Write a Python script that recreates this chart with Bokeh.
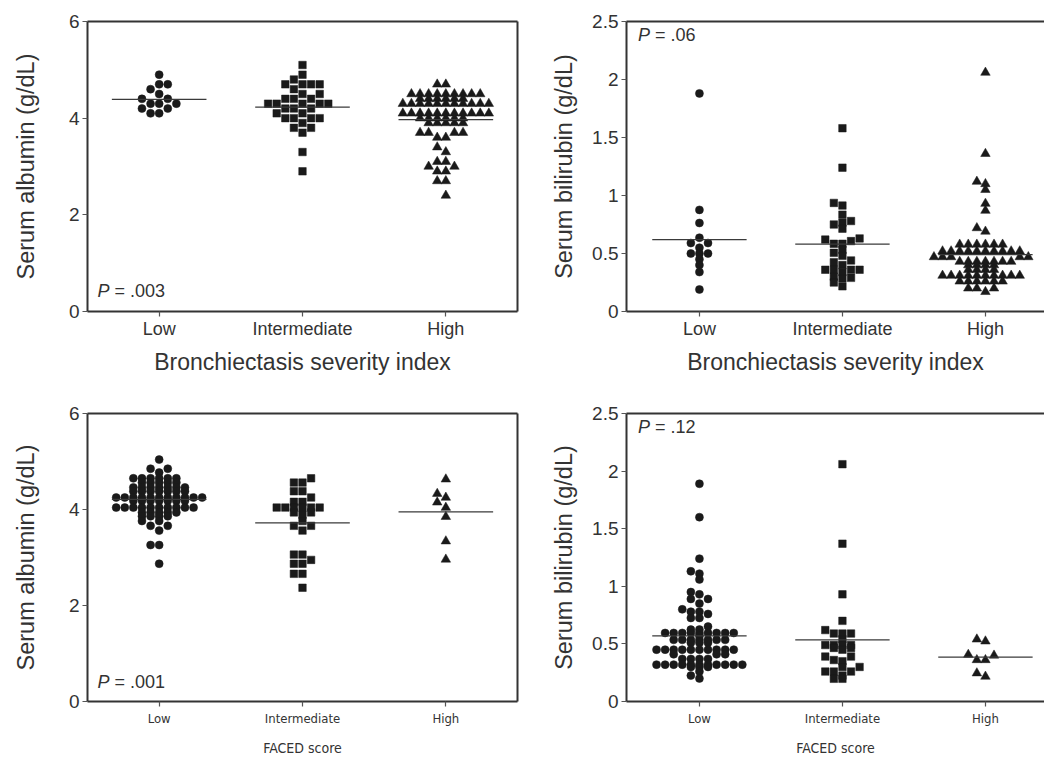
from bokeh.plotting import figure
from bokeh.layouts import column, row
from bokeh.models import Range1d, FixedTicker, LinearAxis, Label, CustomJSTickFormatter
from bokeh.embed import file_html
from bokeh.resources import INLINE

# ---------------- data ----------------
groups = ["Low", "Intermediate", "High"]

alb_bsi_low = [4.9, 4.7, 4.7, 4.6, 4.5, 4.4, 4.4, 4.3, 4.3, 4.3, 4.2, 4.2, 4.1, 4.1]
alb_bsi_int = [5.1, 4.9, 4.8, 4.7, 4.7, 4.7, 4.7, 4.6, 4.5, 4.5, 4.4, 4.4, 4.4,
               4.3, 4.3, 4.3, 4.3, 4.3, 4.2, 4.2, 4.2, 4.1, 4.1, 4.0, 4.0, 4.0, 4.0,
               3.9, 3.8, 3.8, 3.7, 3.3, 2.9]
alb_bsi_high = [4.7, 4.7,
                4.5, 4.5, 4.5, 4.5, 4.5, 4.5, 4.5, 4.5, 4.5,
                4.4, 4.4, 4.4, 4.4, 4.4, 4.4,
                4.3, 4.3, 4.3, 4.3, 4.3, 4.3, 4.3, 4.3, 4.3, 4.3, 4.3,
                4.1, 4.1, 4.1, 4.1, 4.1, 4.1, 4.1, 4.1, 4.1, 4.1, 4.1,
                4.0, 4.0, 4.0, 4.0, 4.0, 4.0,
                3.9, 3.9, 3.9, 3.9, 3.9,
                3.7, 3.7, 3.7, 3.7,
                3.6, 3.6, 3.4, 3.3, 3.1, 3.1, 3.0, 3.0, 2.9, 2.9, 2.7, 2.7, 2.4]
alb_bsi_med = [4.39, 4.23, 3.97]

bil_bsi_low = [1.88, 0.876, 0.763, 0.636, 0.59, 0.59, 0.55, 0.50, 0.50, 0.50, 0.45, 0.40, 0.34, 0.19]
bil_bsi_int = [1.58, 1.24, 0.936, 0.913, 0.835, 0.78, 0.766, 0.75, 0.714, 0.63, 0.62, 0.607,
               0.584, 0.584, 0.53, 0.506, 0.48, 0.44, 0.425, 0.40, 0.36, 0.36, 0.36, 0.36,
               0.34, 0.30, 0.29, 0.286, 0.25, 0.217]
bil_bsi_high = [2.06, 1.36, 1.12, 1.10, 1.05, 0.93, 0.87, 0.72, 0.69,
                0.578, 0.578, 0.578, 0.578, 0.578, 0.578,
                0.52, 0.52, 0.52, 0.52, 0.52, 0.52, 0.52, 0.52, 0.52, 0.52,
                0.47, 0.47, 0.47, 0.47, 0.47,
                0.43, 0.43, 0.43, 0.43, 0.43, 0.43, 0.43,
                0.40, 0.40, 0.40, 0.40,
                0.36, 0.36, 0.36, 0.36,
                0.31, 0.31, 0.31, 0.31, 0.31, 0.31, 0.31, 0.31, 0.31, 0.31,
                0.26, 0.26, 0.26, 0.26, 0.26, 0.26,
                0.20, 0.20, 0.20, 0.17]
bil_bsi_med = [0.62, 0.58, 0.49]

alb_faced_low = [5.04, 4.85, 4.85, 4.77,
                 4.65, 4.65, 4.65, 4.65, 4.65, 4.65,
                 4.56, 4.56, 4.56, 4.56, 4.56,
                 4.46, 4.46, 4.46, 4.46, 4.46, 4.46, 4.46,
                 4.38, 4.38, 4.38, 4.38, 4.38, 4.38, 4.38,
                 4.25, 4.25, 4.25, 4.25, 4.25, 4.25, 4.25, 4.25, 4.25, 4.25, 4.25,
                 4.18, 4.18, 4.18, 4.18, 4.18, 4.18, 4.18,
                 4.04, 4.04, 4.04, 4.04, 4.04, 4.04, 4.04, 4.04, 4.04, 4.04,
                 3.94, 3.94, 3.94, 3.94, 3.94,
                 3.86, 3.86, 3.86, 3.86,
                 3.76, 3.76, 3.66, 3.66, 3.56, 3.26, 3.26, 2.87]
alb_faced_int = [4.65, 4.56, 4.56, 4.38, 4.38, 4.25, 4.16, 4.16,
                 4.04, 4.04, 4.04, 4.04, 4.04, 4.04, 3.94, 3.94, 3.89, 3.76,
                 3.66, 3.66, 3.56, 3.06, 3.06, 2.95, 2.87, 2.87, 2.66, 2.66, 2.37]
alb_faced_high = [4.63, 4.33, 4.25, 4.15, 4.04, 3.85, 3.34, 2.96]
alb_faced_med = [4.21, 3.72, 3.95]

bil_faced_low = [1.89, 1.60, 1.24, 1.13, 1.11, 1.06, 0.95, 0.93, 0.89, 0.89, 0.85,
                 0.80, 0.78, 0.78, 0.76, 0.725, 0.725, 0.65, 0.624, 0.624,
                 0.595, 0.595, 0.595, 0.595, 0.595, 0.595, 0.595, 0.595, 0.595, 0.57,
                 0.535, 0.535, 0.535, 0.535, 0.535, 0.535, 0.535, 0.51, 0.51, 0.51,
                 0.45, 0.45, 0.45, 0.45, 0.45, 0.45, 0.45, 0.45, 0.45, 0.45,
                 0.41, 0.41, 0.41, 0.37, 0.37, 0.37, 0.37,
                 0.32, 0.32, 0.32, 0.32, 0.32, 0.32, 0.32, 0.32, 0.32, 0.32, 0.32,
                 0.30, 0.30, 0.30, 0.26, 0.225, 0.20]
bil_faced_int = [2.06, 1.37, 0.93, 0.70, 0.62, 0.59, 0.59, 0.59, 0.54,
                 0.49, 0.49, 0.49, 0.49, 0.465, 0.465, 0.45, 0.39, 0.39, 0.36, 0.35,
                 0.30, 0.30, 0.26, 0.26, 0.26, 0.225, 0.197, 0.197]
bil_faced_high = [0.54, 0.523, 0.407, 0.40, 0.361, 0.361, 0.246, 0.217]
bil_faced_med = [0.57, 0.535, 0.385]

p_texts = ["= .003", "= .06", "= .001", "= .12"]
alb_ticks = [0, 2, 4, 6]
bil_ticks = [0, 0.5, 1, 1.5, 2, 2.5]

# ---------------- styling ----------------
INK = "#1a1a1a"
AX = "#333333"
TXT = "#333333"
FONT = "Liberation Sans"
NARROW = "DejaVu Sans Condensed"
MARKERS = ["circle", "square", "triangle"]
MSIZE = [8, 7.5, 9.5]
STEP = 0.06
H_SMALL, H_BIG, DENSE_N, WIN = 2.0, 5.5, 6, 4.5


def swarm_offsets(vals, ppu, step):
    """Grid beeswarm: each point takes the nearest column free of close neighbours.
    Points in dense rows tolerate overlap, sparse points are spread apart."""
    n = len(vals)
    ys = [v * ppu for v in vals]
    hs = []
    for y in ys:
        cnt = sum(1 for yy in ys if abs(yy - y) <= WIN)
        hs.append(H_SMALL if cnt >= DENSE_N else H_BIG)
    order = sorted(range(n), key=lambda i: vals[i])
    cols = {}
    offs = [0.0] * n
    seq = [0]
    for k in range(1, 60):
        seq += [-k, k]
    for i in order:
        for c in seq:
            if all(abs(ys[i] - yy) >= hs[i] for yy in cols.get(c, [])):
                cols.setdefault(c, []).append(ys[i])
                offs[i] = c * step
                break
    return offs


def panel(w, h, mbl, mbr, mbt, mbb, xr, yr, ticks, ylabel, xlabel, narrow,
          data, meds, ptext, px, py, right_border, ylab_standoff):
    p = figure(width=w, height=h, x_range=Range1d(*xr), y_range=Range1d(*yr),
               output_backend="svg", toolbar_location=None,
               min_border_left=mbl, min_border_right=mbr,
               min_border_top=mbt, min_border_bottom=mbb)
    p.grid.visible = False
    p.outline_line_color = None
    p.background_fill_color = "white"
    p.border_fill_color = "white"

    p.xaxis.ticker = FixedTicker(ticks=[1, 2, 3])
    p.xaxis.major_label_overrides = {1: groups[0], 2: groups[1], 3: groups[2]}
    p.yaxis.ticker = FixedTicker(ticks=ticks)
    p.yaxis.formatter = CustomJSTickFormatter(code="return tick.toString();")
    for ax in (p.xaxis[0], p.yaxis[0]):
        ax.axis_line_color = AX
        ax.axis_line_width = 2
        ax.major_tick_line_color = "#555555"
        ax.major_tick_line_width = 1.2
        ax.major_tick_out = 5
        ax.major_tick_in = 0
        ax.minor_tick_line_color = None
        ax.major_label_text_color = TXT
        ax.axis_label_text_color = TXT
        ax.axis_label_text_font_style = "normal"
    p.yaxis.major_label_text_font = FONT
    p.yaxis.major_label_text_font_size = "19px"
    p.yaxis.major_label_standoff = 3
    p.yaxis.axis_label = ylabel
    p.yaxis.axis_label_text_font = FONT
    p.yaxis.axis_label_text_font_size = "23.5px"
    p.yaxis.axis_label_standoff = ylab_standoff
    p.xaxis.axis_label = xlabel
    if narrow:
        p.xaxis.major_label_text_font = NARROW
        p.xaxis.major_label_text_font_size = "13px"
        p.xaxis.major_label_standoff = 4
        p.xaxis.axis_label_text_font = NARROW
        p.xaxis.axis_label_text_font_size = "14px"
        p.xaxis.axis_label_standoff = 11
    else:
        p.xaxis.major_label_text_font = FONT
        p.xaxis.major_label_text_font_size = "18px"
        p.xaxis.major_label_standoff = 2
        p.xaxis.axis_label_text_font = FONT
        p.xaxis.axis_label_text_font_size = "23px"
        p.xaxis.axis_label_standoff = 7

    sides = ["above"] + (["right"] if right_border else [])
    for side in sides:
        b = LinearAxis(ticker=FixedTicker(ticks=[]), axis_line_color=AX, axis_line_width=2,
                       major_tick_out=0, major_tick_in=0, minor_tick_out=0, minor_tick_in=0,
                       major_label_standoff=0, major_label_text_font_size="0px")
        p.add_layout(b, side)

    frame_h = h - mbt - mbb
    ppu = frame_h / (yr[1] - yr[0])
    for gi, vals in enumerate(data):
        offs = swarm_offsets(vals, ppu, STEP)
        xs = [gi + 1 + o for o in offs]
        p.scatter(xs, vals, marker=MARKERS[gi], size=MSIZE[gi],
                  fill_color=INK, line_color=INK, line_width=0.5)
    for gi, m in enumerate(meds):
        p.segment(x0=[gi + 1 - 0.33], y0=[m], x1=[gi + 1 + 0.33], y1=[m],
                  line_color="#3a3a3a", line_width=1.3)

    p.add_layout(Label(x=px, y=py, text="P", text_font=FONT, text_font_size="18px",
                       text_font_style="italic", text_color=TXT, text_baseline="middle"))
    p.add_layout(Label(x=px, y=py, x_offset=17, text=ptext, text_font=FONT,
                       text_font_size="18px", text_color=TXT, text_baseline="middle"))
    return p


p1 = panel(540, 395, 87, 23, 21, 84, (0.5, 3.5), (0, 6), alb_ticks,
           "Serum albumin (g/dL)", "Bronchiectasis severity index", False,
           [alb_bsi_low, alb_bsi_int, alb_bsi_high], alb_bsi_med, p_texts[0],
           0.57, 0.43, True, 27)
p2 = panel(504, 395, 86, 0, 21, 84, (0.49, 3.413), (0, 2.5), bil_ticks,
           "Serum bilirubin (g/dL)", "Bronchiectasis severity index", False,
           [bil_bsi_low, bil_bsi_int, bil_bsi_high], bil_bsi_med, p_texts[1],
           0.57, 2.38, False, 12)
p3 = panel(540, 365, 87, 23, 18, 59, (0.5, 3.5), (0, 6), alb_ticks,
           "Serum albumin (g/dL)", "FACED score", True,
           [alb_faced_low, alb_faced_int, alb_faced_high], alb_faced_med, p_texts[2],
           0.57, 0.40, True, 27)
p4 = panel(504, 365, 86, 0, 18, 59, (0.49, 3.413), (0, 2.5), bil_ticks,
           "Serum bilirubin (g/dL)", "FACED score", True,
           [bil_faced_low, bil_faced_int, bil_faced_high], bil_faced_med, p_texts[3],
           0.57, 2.385, False, 12)

layout = column(row(p1, p2, spacing=0), row(p3, p4, spacing=0), spacing=0)
open("out.html", "w").write(file_html(layout, INLINE))
